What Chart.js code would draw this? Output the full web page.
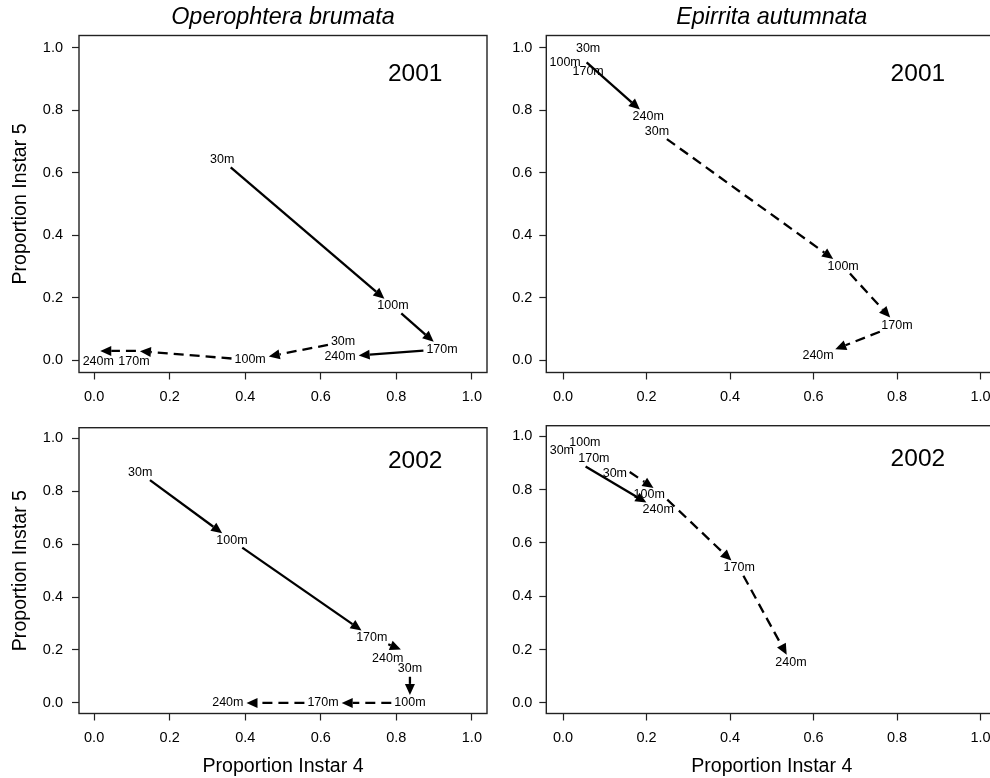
<!DOCTYPE html>
<html>
<head>
<meta charset="utf-8">
<title>Instar proportions along the altitude gradient</title>
<script src="https://cdn.jsdelivr.net/npm/chart.js@4.4.1/dist/chart.umd.min.js"></script>
<style>
  html, body { margin: 0; padding: 0; background: #fff; overflow: hidden; }
  #wrap { position: relative; width: 990px; height: 778px; overflow: hidden; }
  canvas { position: absolute; }
</style>
</head>
<body>
<div id="wrap">
  <canvas id="obr2001" width="495" height="410" style="left:0;top:0"></canvas>
  <canvas id="eau2001" width="510" height="410" style="left:495px;top:0"></canvas>
  <canvas id="obr2002" width="495" height="368" style="left:0;top:410px"></canvas>
  <canvas id="eau2002" width="510" height="368" style="left:495px;top:410px"></canvas>
</div>
<script>
const altitudes = ['30m', '100m', '170m', '240m'];
const axisTicks = [0, 0.2, 0.4, 0.6, 0.8, 1.0];

// Operophtera brumata 2001: x = proportion instar 4, y = proportion instar 5
const obr2001SolidX = [0.339, 0.791, 0.921, 0.651];
const obr2001SolidY = [0.641, 0.173, 0.035, 0.010];
const obr2001DashX = [0.659, 0.413, 0.116, 0.011];
const obr2001DashY = [0.058, 0.000, 0.029, 0.029];

// Epirrita autumnata 2001
const eau2001SolidX = [0.053, 0.053, 0.053, 0.204];
const eau2001SolidY = [0.958, 0.958, 0.958, 0.779];
const eau2001DashX = [0.225, 0.671, 0.800, 0.611];
const eau2001DashY = [0.731, 0.301, 0.112, 0.013];

// Operophtera brumata 2002
const obr2002SolidX = [0.122, 0.365, 0.735, 0.817];
const obr2002SolidY = [0.869, 0.614, 0.247, 0.199];
const obr2002DashX = [0.836, 0.836, 0.606, 0.354];
const obr2002DashY = [0.129, 0.000, 0.000, 0.000];

// Epirrita autumnata 2002
const eau2002SolidX = [0.050, 0.050, 0.050, 0.228];
const eau2002SolidY = [0.891, 0.891, 0.891, 0.725];
const eau2002DashX = [0.153, 0.228, 0.422, 0.546];
const eau2002DashY = [0.873, 0.795, 0.506, 0.151];

const FONT = "'Liberation Sans', Arial, Helvetica, sans-serif";
Chart.defaults.font.family = FONT;
Chart.defaults.color = '#000';

// label shifts (px) where altitude labels would sit on top of each other
const noShift = [[0, 0], [0, 0], [0, 0], [0, 0]];
const labelShift = {
  obr2001: [noShift, [[0, 0], [0, 0], [-4, 11], [0, 11]]],
  eau2001: [[[3, -13], [-20, 1], [3, 10], [0, 0]], noShift],
  obr2002: [[[0, 0], [0, 0], [0, 0], [-15, 8]], noShift],
  eau2002: [[[-22, -15], [1, -23], [10, -7], [0, 0]], [[-12, 3], [-9, 4], [0, 0], [0, 0]]]
};

const LABEL_FONT = '12.5px ' + FONT;

function toPoints(xs, ys) {
  return xs.map((v, i) => ({ x: v, y: ys[i] }));
}

// distance along dir from p to the edge of label box b, if p sits inside it
function boxExit(p, dir, b) {
  if (Math.abs(p.x - b.cx) > b.hw || Math.abs(p.y - b.cy) > b.hh) return 0;
  const tx = dir.x > 0 ? (b.cx + b.hw - p.x) / dir.x : dir.x < 0 ? (b.cx - b.hw - p.x) / dir.x : Infinity;
  const ty = dir.y > 0 ? (b.cy + b.hh - p.y) / dir.y : dir.y < 0 ? (b.cy - b.hh - p.y) / dir.y : Infinity;
  return Math.min(tx, ty);
}

function drawArrow(ctx, x0, y0, x1, y1, dashed) {
  const a = Math.atan2(y1 - y0, x1 - x0);
  const head = 11, half = 5;
  const c = Math.cos(a), s = Math.sin(a);
  const bx = x1 - head * c, by = y1 - head * s;
  ctx.lineWidth = 2.3;
  ctx.setLineDash(dashed ? [10, 6] : []);
  ctx.beginPath();
  ctx.moveTo(x0, y0);
  ctx.lineTo(bx, by);
  ctx.stroke();
  ctx.setLineDash([]);
  ctx.beginPath();
  ctx.moveTo(x1, y1);
  ctx.lineTo(bx - half * s, by + half * c);
  ctx.lineTo(bx + half * s, by - half * c);
  ctx.closePath();
  ctx.fill();
}

const transectPlugin = {
  id: 'transect',
  afterDatasetsDraw(chart, args, opts) {
    const { ctx, chartArea: area, scales: { x, y } } = chart;
    ctx.save();

    // frame around the plot region
    ctx.strokeStyle = '#222';
    ctx.lineWidth = 1.4;
    ctx.strokeRect(area.left, area.top, area.right - area.left, area.bottom - area.top);

    ctx.fillStyle = '#000';
    ctx.strokeStyle = '#000';
    ctx.textAlign = 'center';
    ctx.textBaseline = 'middle';

    ctx.font = '24.5px ' + FONT;
    ctx.fillText(opts.year, x.getPixelForValue(0.85), y.getPixelForValue(0.915));

    if (opts.title) {
      ctx.font = 'italic 23.4px ' + FONT;
      ctx.fillText(opts.title, (area.left + area.right) / 2, 17);
    }
    if (opts.xTitle) {
      ctx.font = '19.6px ' + FONT;
      ctx.fillText(opts.xTitle, (area.left + area.right) / 2, chart.height - 11);
    }
    if (opts.yTitle) {
      ctx.save();
      ctx.font = '19.6px ' + FONT;
      ctx.translate(20.5, (area.top + area.bottom) / 2);
      ctx.rotate(-Math.PI / 2);
      ctx.fillText(opts.yTitle, 0, 0);
      ctx.restore();
    }

    ctx.font = LABEL_FONT;
    chart.data.datasets.forEach((ds, di) => {
      const shift = opts.shifts[di];
      const pts = ds.data.map(p => ({ x: x.getPixelForValue(p.x), y: y.getPixelForValue(p.y) }));
      const boxes = pts.map((p, i) => ({
        cx: p.x + shift[i][0],
        cy: p.y + shift[i][1],
        hw: ctx.measureText(altitudes[i]).width / 2 + 1,
        hh: 6
      }));

      for (let i = 0; i < pts.length - 1; i++) {
        const p0 = pts[i], p1 = pts[i + 1];
        const dx = p1.x - p0.x, dy = p1.y - p0.y;
        const len = Math.hypot(dx, dy);
        if (len < 1) continue;
        const dir = { x: dx / len, y: dy / len };
        const t0 = boxExit(p0, dir, boxes[i]) + 2;
        const t1 = boxExit(p1, { x: -dir.x, y: -dir.y }, boxes[i + 1]) + 2;
        if (len - t0 - t1 < 4) continue;
        drawArrow(ctx,
          p0.x + dir.x * t0, p0.y + dir.y * t0,
          p1.x - dir.x * t1, p1.y - dir.y * t1,
          ds.dashed);
      }

      boxes.forEach((b, i) => ctx.fillText(altitudes[i], b.cx, b.cy));
    });
    ctx.restore();
  }
};

function makePanel(id, layout, text, solidX, solidY, dashX, dashY) {
  new Chart(document.getElementById(id), {
    type: 'scatter',
    data: {
      datasets: [
        { data: toPoints(solidX, solidY), dashed: false, pointRadius: 0, showLine: false },
        { data: toPoints(dashX, dashY), dashed: true, pointRadius: 0, showLine: false }
      ]
    },
    options: {
      responsive: false,
      animation: false,
      events: [],
      layout: { padding: { left: 0, right: layout.right, top: layout.top, bottom: 0 } },
      plugins: {
        legend: { display: false },
        tooltip: { enabled: false },
        transect: text
      },
      scales: {
        x: {
          type: 'linear',
          min: -0.04,
          max: 1.04,
          afterBuildTicks: axis => { axis.ticks = axisTicks.map(v => ({ value: v })); },
          afterFit: axis => { axis.height = layout.xHeight; },
          border: { display: false },
          grid: { drawOnChartArea: false, drawTicks: true, tickLength: 7, tickColor: '#222', tickWidth: 1.2 },
          ticks: { padding: 9, font: { size: 14.5 }, color: '#000', maxRotation: 0, autoSkip: false,
                   callback: v => v.toFixed(1) }
        },
        y: {
          type: 'linear',
          min: -0.04,
          max: 1.04,
          afterBuildTicks: axis => { axis.ticks = axisTicks.map(v => ({ value: v })); },
          afterFit: axis => { axis.width = layout.yWidth; },
          border: { display: false },
          grid: { drawOnChartArea: false, drawTicks: true, tickLength: 7, tickColor: '#222', tickWidth: 1.2 },
          ticks: { padding: layout.yPad, font: { size: 14.5 }, color: '#000', autoSkip: false,
                   callback: v => v.toFixed(1) }
        }
      }
    },
    plugins: [transectPlugin]
  });
}

makePanel('obr2001', { top: 35.5, right: 8, yWidth: 79, xHeight: 37.5, yPad: 9 },
  { year: '2001', title: 'Operophtera brumata', yTitle: 'Proportion Instar 5', shifts: labelShift.obr2001 },
  obr2001SolidX, obr2001SolidY, obr2001DashX, obr2001DashY);

makePanel('eau2001', { top: 35.5, right: 7.8, yWidth: 51.3, xHeight: 37.5, yPad: 7 },
  { year: '2001', title: 'Epirrita autumnata', shifts: labelShift.eau2001 },
  eau2001SolidX, eau2001SolidY, eau2001DashX, eau2001DashY);

makePanel('obr2002', { top: 12, right: 8, yWidth: 79, xHeight: 64.5, yPad: 9 },
  { year: '2002', yTitle: 'Proportion Instar 5', xTitle: 'Proportion Instar 4', shifts: labelShift.obr2002 },
  obr2002SolidX, obr2002SolidY, obr2002DashX, obr2002DashY);

makePanel('eau2002', { top: 12, right: 7.8, yWidth: 51.3, xHeight: 64.5, yPad: 7 },
  { year: '2002', xTitle: 'Proportion Instar 4', shifts: labelShift.eau2002 },
  eau2002SolidX, eau2002SolidY, eau2002DashX, eau2002DashY);
</script>
</body>
</html>
